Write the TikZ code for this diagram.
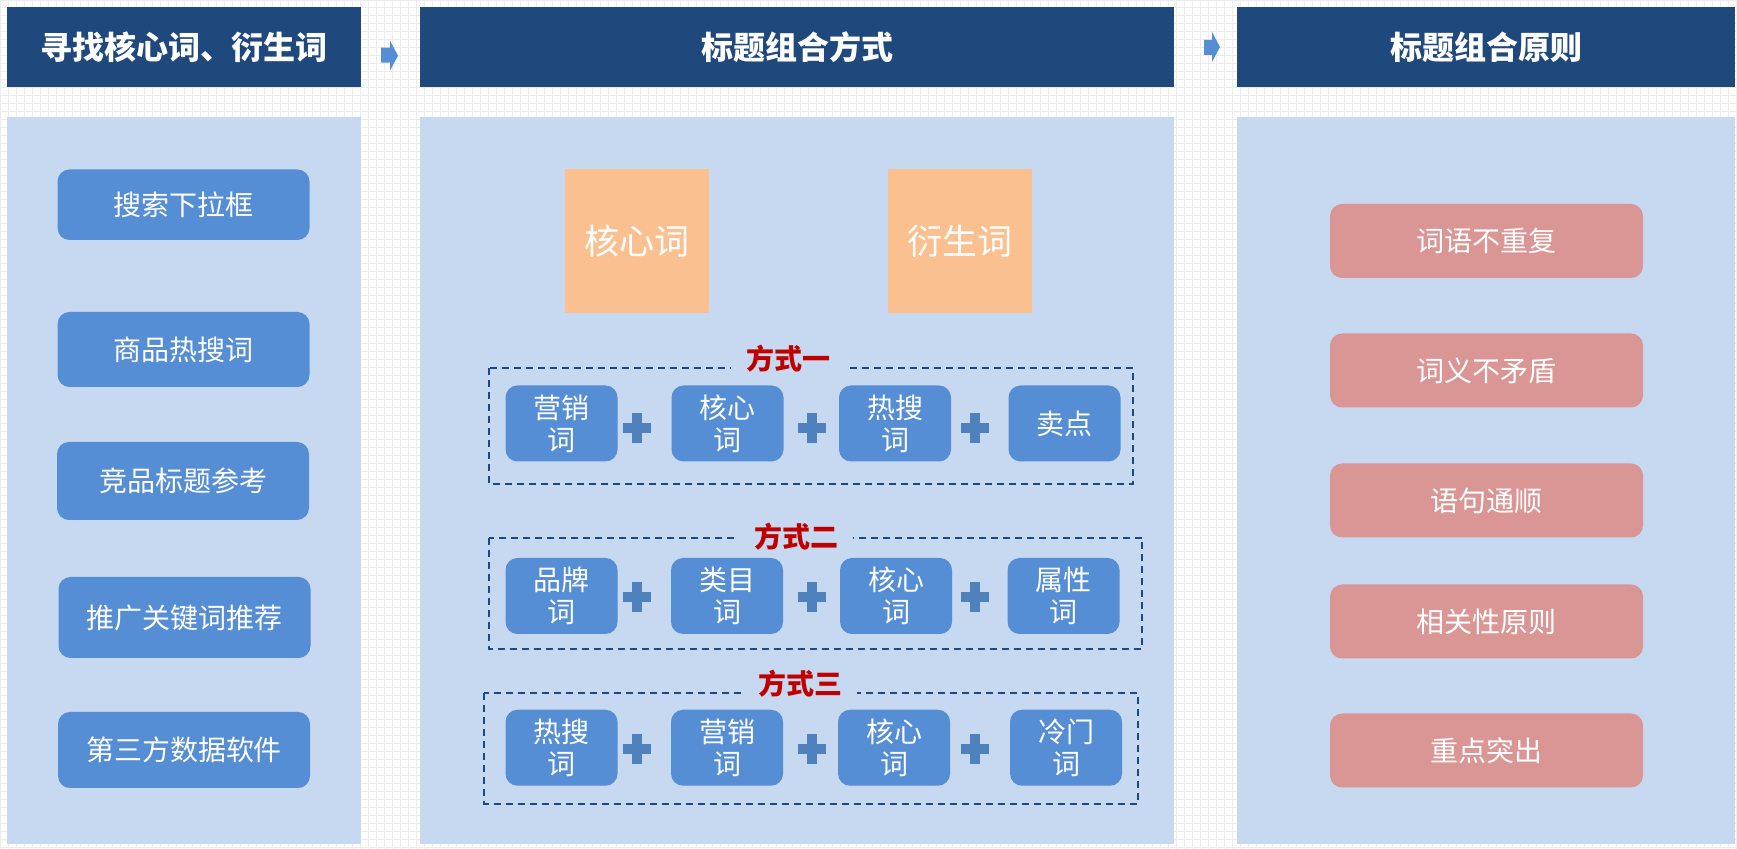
\documentclass[tikz,border=0pt]{standalone}
\usepackage{fontspec}
\setmainfont{Noto Sans CJK SC}
\usepackage{xcolor}
\usepackage{tikz}
\usetikzlibrary{positioning}
\definecolor{hdrblue}{RGB}{31,73,125}
\definecolor{panelblue}{RGB}{198,217,240}
\definecolor{boxblue}{RGB}{85,142,213}
\definecolor{plusblue}{RGB}{79,129,189}
\definecolor{keyorange}{RGB}{250,192,144}
\definecolor{rulepink}{RGB}{218,150,148}
\definecolor{labelred}{RGB}{192,0,0}
\definecolor{gridgray}{RGB}{236,236,236}

\begin{document}
\begin{tikzpicture}[x=0.5pt,y=-0.5pt,
      hdr/.style={fill=hdrblue,text=white,minimum height=40.25pt,inner sep=0pt,font=\fontsize{16}{19}\selectfont\bfseries},
      srcbox/.style={fill=boxblue,rounded corners=6pt,text=white,minimum width=126pt,inner sep=0pt,font=\fontsize{14}{16}\selectfont},
      wordbox/.style={fill=boxblue,rounded corners=6pt,text=white,minimum width=56pt,minimum height=38pt,inner sep=0pt,align=center,font=\fontsize{14}{16}\selectfont},
      keybox/.style={fill=keyorange,text=white,minimum size=72pt,inner sep=0pt,font=\fontsize{17.5}{20}\selectfont},
      rulebox/.style={fill=rulepink,rounded corners=6pt,text=white,minimum width=156.5pt,minimum height=37pt,inner sep=0pt,font=\fontsize{14}{16}\selectfont},
      waybox/.style={draw=hdrblue,line width=1pt,dash pattern=on 3.5pt off 2.5pt},
      waylbl/.style={fill=panelblue,text=labelred,inner xsep=7.5pt,inner ysep=1pt,font=\fontsize{14}{16}\selectfont\bfseries},
      panel/.style={fill=panelblue},
      flow/.style={fill=boxblue},
      plusc/.style={fill=plusblue}]
    \useasboundingbox (0,0) rectangle (1737,849);
    \fill[white] (0,0) rectangle (1737,849);
    \draw[gridgray,line width=0.5pt,step=4pt] (0,849) grid (1737,0);

    \fill[panel] (7,117) rectangle (361,844);
    \fill[panel] (420,117) rectangle (1174,844);
    \fill[panel] (1237,117) rectangle (1735,844);

    \node[hdr,minimum width=177pt] (find)  at (184,47.25)  {寻找核心词、衍生词};
    \node[hdr,minimum width=377pt] (combo) at (797,47.25)  {标题组合方式};
    \node[hdr,minimum width=249pt] (rules) at (1486,47.25) {标题组合原则};
    \fill[flow] (381,47.7) -- (390,47.7) -- (390,40.7) -- (398,55.7) -- (390,70.7) -- (390,62.7) -- (381,62.7) -- cycle;
    \fill[flow] (1204,40) -- (1212,40) -- (1212,32) -- (1220,47) -- (1212,62) -- (1212,55) -- (1204,55) -- cycle;

    \node[srcbox,minimum height=35.25pt] (s1) at (183.5,204.75) {搜索下拉框};
    \node[srcbox,minimum height=37.5pt]  (s2) at (183.5,349.5)  {商品热搜词};
    \node[srcbox,minimum height=39pt]    (s3) at (183,481)      {竞品标题参考};
    \node[srcbox,minimum height=40.5pt]  (s4) at (184.5,617.5)  {推广关键词推荐};
    \node[srcbox,minimum height=38pt]    (s5) at (184,750)      {第三方数据软件};

    \node[keybox] (core)  at (637,241.5)   {核心词};
    \node[keybox] (deriv) at (959.5,241.5) {衍生词};

    \draw[waybox] (488.5,368.5) rectangle (1133,484);
    \node[waylbl] (way1) at (788,359) {方式一};
    \node[wordbox] (a1) at (561.5,423.5)  {营销\\词};
    \node[wordbox] (a2) at (727.5,423.5)  {核心\\词};
    \node[wordbox] (a3) at (895,423.5)    {热搜\\词};
    \node[wordbox] (a4) at (1064.5,423.5) {卖点};

    \draw[waybox] (488.5,538) rectangle (1142,649);
    \node[waylbl] (way2) at (796,537) {方式二};
    \node[wordbox] (b1) at (561.5,596)  {品牌\\词};
    \node[wordbox] (b2) at (727,596)    {类目\\词};
    \node[wordbox] (b3) at (896,596)    {核心\\词};
    \node[wordbox] (b4) at (1063.5,596) {属性\\词};

    \draw[waybox] (484,693.5) rectangle (1138,804);
    \node[waylbl] (way3) at (800,684) {方式三};
    \node[wordbox] (c1) at (561.5,747.75) {热搜\\词};
    \node[wordbox] (c2) at (727,747.75)   {营销\\词};
    \node[wordbox] (c3) at (894,747.75)   {核心\\词};
    \node[wordbox] (c4) at (1066,747.75)  {冷门\\词};

    \foreach \py in {428,597,749}
      \foreach \px in {637,812,975} {
        \fill[plusc] (\px-14,\py-5) rectangle (\px+14,\py+5);
        \fill[plusc] (\px-5,\py-15) rectangle (\px+5,\py+15);
      }

    \node[rulebox] (r1) at (1486.5,241)   {词语不重复};
    \node[rulebox] (r2) at (1486.5,370.5) {词义不矛盾};
    \node[rulebox] (r3) at (1486.5,500.5) {语句通顺};
    \node[rulebox] (r4) at (1486.5,621.5) {相关性原则};
    \node[rulebox] (r5) at (1486.5,750.5) {重点突出};
  \end{tikzpicture}
\end{document}
